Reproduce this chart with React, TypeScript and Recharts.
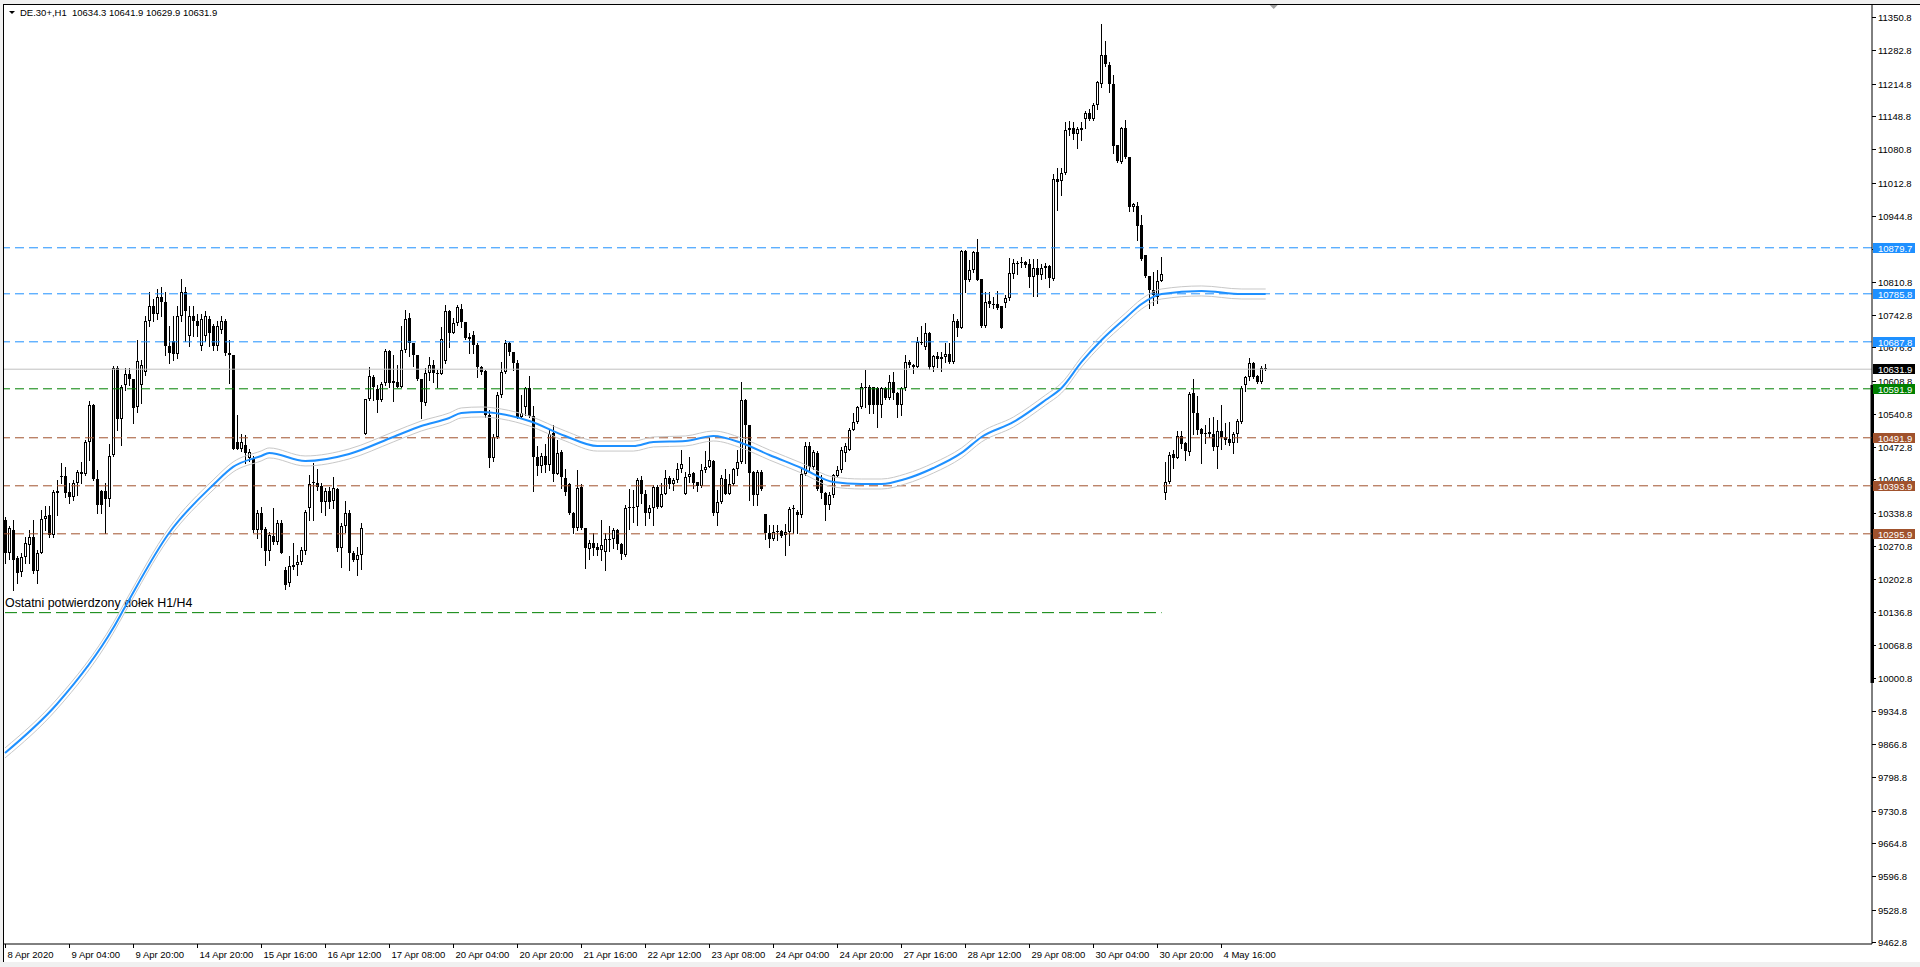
import React from "react"
import {
  ComposedChart,
  Bar,
  Line,
  XAxis,
  YAxis,
  ReferenceLine,
  ReferenceArea,
  ReferenceDot,
} from "recharts"

// DE.30+ H1 candles, 8 Apr 2020 12:00 -> 5 May 2020
const OPEN = [
  10324, 10256, 10304, 10246, 10217, 10248, 10273, 10289, 10219, 10256,
  10326, 10335, 10294, 10379, 10414, 10414, 10381, 10372, 10400, 10418,
  10418, 10483, 10558, 10407, 10383, 10383, 10367, 10457, 10634, 10530,
  10600, 10622, 10612, 10554, 10600, 10627, 10730, 10760, 10745, 10780,
  10770, 10680, 10690, 10662, 10740, 10790, 10700, 10740, 10730, 10680,
  10700, 10735, 10720, 10680, 10712, 10730, 10664, 10661, 10484, 10470,
  10477, 10450, 10450, 10304, 10338, 10305, 10260, 10292, 10280, 10317,
  10222, 10195, 10229, 10232, 10239, 10260, 10348, 10402, 10400, 10393,
  10360, 10383, 10362, 10387, 10266, 10311, 10338, 10256, 10242, 10253,
  10499, 10572, 10615, 10591, 10569, 10603, 10669, 10608, 10606, 10596,
  10671, 10736, 10685, 10660, 10611, 10562, 10625, 10640, 10624, 10623,
  10648, 10751, 10706, 10727, 10754, 10728, 10693, 10702, 10681, 10637,
  10628, 10538, 10450, 10494, 10579, 10626, 10686, 10668, 10644, 10535,
  10554, 10593, 10536, 10453, 10434, 10455, 10436, 10501, 10419, 10462,
  10409, 10398, 10339, 10307, 10392, 10307, 10264, 10277, 10270, 10262,
  10258, 10284, 10285, 10304, 10276, 10253, 10348, 10348, 10351, 10406,
  10377, 10339, 10348, 10392, 10350, 10377, 10409, 10397, 10406, 10428,
  10377, 10411, 10421, 10402, 10394, 10426, 10433, 10445, 10339, 10361,
  10408, 10377, 10397, 10428, 10443, 10570, 10518, 10423, 10376, 10423,
  10336, 10297, 10285, 10300, 10302, 10293, 10300, 10346, 10341, 10334,
  10419, 10476, 10433, 10460, 10406, 10379, 10355, 10375, 10414, 10426,
  10460, 10468, 10508, 10525, 10554, 10595, 10596, 10596, 10593, 10559,
  10593, 10574, 10606, 10583, 10559, 10593, 10647, 10640, 10637, 10688,
  10678, 10705, 10637, 10659, 10652, 10657, 10662, 10647, 10730, 10717,
  10874, 10814, 10834, 10872, 10815, 10720, 10771, 10766, 10765, 10761,
  10768, 10777, 10827, 10849, 10848, 10850, 10847, 10821, 10838, 10824,
  10838, 10843, 10817, 11020, 11017, 11032, 11120, 11125, 11111, 11125,
  11143, 11155, 11143, 11171, 11215, 11273, 11253, 11215, 11090, 11054,
  11124, 11064, 10962, 10966, 10926, 10864, 10823, 10794, 10780, 10812,
  10379, 10401, 10458, 10451, 10496, 10481, 10462, 10583, 10542, 10509,
  10501, 10503, 10499, 10474, 10505, 10494, 10490, 10481, 10499, 10524,
  10600, 10615, 10644, 10619, 10605, 10634.3,
]

const HIGH = [
  10330, 10312, 10324, 10250, 10256, 10290, 10304, 10324, 10263, 10345,
  10352, 10352, 10386, 10406, 10440, 10433, 10399, 10406, 10426, 10443,
  10488, 10568, 10560, 10426, 10386, 10399, 10479, 10639, 10639, 10600,
  10634, 10634, 10612, 10692, 10650, 10740, 10790, 10775, 10795, 10800,
  10790, 10720, 10740, 10760, 10815, 10800, 10760, 10760, 10745, 10745,
  10750, 10740, 10725, 10730, 10740, 10735, 10692, 10661, 10538, 10500,
  10498, 10470, 10455, 10345, 10351, 10310, 10300, 10348, 10324, 10324,
  10229, 10250, 10277, 10253, 10270, 10345, 10416, 10440, 10429, 10400,
  10389, 10392, 10412, 10389, 10317, 10362, 10345, 10260, 10270, 10317,
  10572, 10636, 10620, 10600, 10606, 10674, 10671, 10661, 10640, 10720,
  10753, 10746, 10686, 10661, 10612, 10634, 10657, 10651, 10630, 10719,
  10763, 10753, 10736, 10763, 10766, 10729, 10705, 10709, 10685, 10638,
  10630, 10549, 10500, 10586, 10647, 10691, 10688, 10668, 10651, 10579,
  10596, 10618, 10557, 10475, 10460, 10479, 10508, 10518, 10487, 10468,
  10428, 10400, 10341, 10426, 10397, 10308, 10283, 10298, 10277, 10324,
  10297, 10311, 10307, 10305, 10278, 10355, 10387, 10385, 10409, 10413,
  10385, 10355, 10396, 10396, 10400, 10427, 10413, 10409, 10440, 10467,
  10423, 10453, 10423, 10402, 10438, 10464, 10491, 10447, 10385, 10416,
  10428, 10419, 10431, 10468, 10605, 10572, 10519, 10424, 10426, 10426,
  10337, 10314, 10314, 10314, 10304, 10316, 10350, 10355, 10345, 10433,
  10484, 10484, 10467, 10464, 10416, 10382, 10382, 10419, 10434, 10474,
  10481, 10511, 10542, 10557, 10603, 10630, 10600, 10596, 10596, 10596,
  10596, 10620, 10627, 10586, 10596, 10661, 10651, 10642, 10697, 10720,
  10726, 10707, 10661, 10668, 10668, 10685, 10686, 10745, 10734, 10875,
  10875, 10855, 10873, 10897, 10815, 10790, 10790, 10780, 10792, 10761,
  10783, 10858, 10856, 10853, 10860, 10853, 10856, 10856, 10856, 10847,
  10848, 10845, 11030, 11042, 11042, 11137, 11138, 11136, 11127, 11137,
  11158, 11164, 11175, 11220, 11336, 11302, 11258, 11232, 11090, 11127,
  11140, 11066, 10971, 10974, 10947, 10864, 10823, 10831, 10834, 10860,
  10442, 10462, 10467, 10505, 10505, 10483, 10586, 10612, 10578, 10511,
  10518, 10532, 10534, 10528, 10558, 10522, 10525, 10504, 10530, 10598,
  10619, 10654, 10647, 10620, 10639, 10641.9,
]

const LOW = [
  10236, 10245, 10182, 10195, 10209, 10236, 10236, 10216, 10195, 10256,
  10304, 10290, 10290, 10335, 10399, 10372, 10358, 10365, 10375, 10399,
  10416, 10447, 10405, 10338, 10338, 10297, 10352, 10455, 10508, 10477,
  10590, 10600, 10522, 10545, 10562, 10620, 10720, 10730, 10735, 10740,
  10660, 10645, 10650, 10655, 10730, 10690, 10680, 10700, 10700, 10672,
  10690, 10680, 10672, 10672, 10705, 10660, 10603, 10470, 10470, 10465,
  10440, 10445, 10300, 10287, 10270, 10232, 10242, 10276, 10276, 10256,
  10183, 10190, 10225, 10212, 10235, 10255, 10324, 10324, 10385, 10341,
  10334, 10348, 10348, 10260, 10229, 10300, 10222, 10240, 10212, 10225,
  10499, 10569, 10569, 10545, 10566, 10600, 10596, 10566, 10596, 10595,
  10668, 10658, 10638, 10610, 10532, 10559, 10610, 10606, 10596, 10622,
  10645, 10678, 10705, 10722, 10719, 10693, 10664, 10664, 10615, 10623,
  10535, 10433, 10445, 10491, 10576, 10624, 10661, 10630, 10532, 10532,
  10538, 10535, 10384, 10416, 10423, 10423, 10426, 10404, 10418, 10389,
  10375, 10337, 10297, 10304, 10305, 10226, 10244, 10253, 10253, 10243,
  10223, 10260, 10266, 10264, 10244, 10251, 10305, 10321, 10314, 10358,
  10314, 10328, 10314, 10348, 10350, 10377, 10389, 10385, 10402, 10423,
  10377, 10402, 10389, 10384, 10392, 10423, 10433, 10334, 10314, 10358,
  10377, 10377, 10396, 10416, 10441, 10440, 10365, 10355, 10355, 10385,
  10285, 10270, 10283, 10283, 10289, 10253, 10273, 10297, 10297, 10331,
  10416, 10426, 10429, 10385, 10368, 10324, 10346, 10372, 10413, 10423,
  10445, 10467, 10507, 10523, 10552, 10555, 10543, 10542, 10513, 10535,
  10572, 10572, 10572, 10535, 10538, 10590, 10637, 10625, 10636, 10684,
  10674, 10632, 10629, 10637, 10629, 10647, 10645, 10645, 10700, 10715,
  10790, 10812, 10831, 10813, 10719, 10719, 10758, 10756, 10754, 10715,
  10758, 10773, 10819, 10826, 10841, 10840, 10800, 10781, 10781, 10817,
  10819, 10800, 10814, 10957, 10987, 11030, 11109, 11102, 11083, 11100,
  11125, 11141, 11141, 11163, 11207, 11251, 11197, 11073, 11054, 11052,
  11062, 10954, 10954, 10896, 10855, 10821, 10756, 10763, 10767, 10811,
  10367, 10399, 10430, 10450, 10471, 10447, 10457, 10499, 10499, 10440,
  10481, 10494, 10467, 10430, 10470, 10479, 10477, 10460, 10484, 10522,
  10588, 10610, 10613, 10603, 10603, 10629.9,
]

const CLOSE = [
  10256, 10307, 10243, 10216, 10248, 10277, 10289, 10219, 10256, 10326,
  10333, 10294, 10381, 10383, 10413, 10380, 10372, 10399, 10423, 10423,
  10483, 10558, 10407, 10355, 10355, 10367, 10454, 10634, 10530, 10596,
  10622, 10612, 10552, 10649, 10640, 10730, 10760, 10745, 10780, 10770,
  10680, 10665, 10662, 10740, 10790, 10750, 10740, 10730, 10720, 10735,
  10740, 10705, 10680, 10720, 10730, 10664, 10661, 10470, 10470, 10484,
  10460, 10462, 10304, 10338, 10304, 10260, 10294, 10280, 10317, 10256,
  10191, 10230, 10232, 10239, 10263, 10341, 10397, 10402, 10392, 10360,
  10383, 10360, 10389, 10266, 10311, 10338, 10256, 10242, 10253, 10307,
  10572, 10618, 10596, 10569, 10601, 10669, 10603, 10603, 10596, 10671,
  10734, 10685, 10660, 10611, 10564, 10625, 10640, 10624, 10622, 10693,
  10751, 10706, 10727, 10758, 10729, 10695, 10698, 10681, 10637, 10627,
  10538, 10450, 10494, 10579, 10626, 10685, 10666, 10644, 10535, 10542,
  10593, 10536, 10453, 10434, 10455, 10436, 10499, 10419, 10460, 10411,
  10382, 10339, 10307, 10389, 10307, 10266, 10277, 10266, 10262, 10273,
  10285, 10286, 10304, 10276, 10255, 10348, 10350, 10351, 10406, 10377,
  10339, 10348, 10392, 10350, 10377, 10409, 10397, 10406, 10428, 10438,
  10411, 10419, 10400, 10394, 10426, 10433, 10447, 10339, 10361, 10409,
  10377, 10397, 10428, 10443, 10570, 10518, 10421, 10376, 10423, 10387,
  10297, 10285, 10300, 10302, 10292, 10300, 10346, 10348, 10334, 10419,
  10476, 10433, 10462, 10387, 10379, 10355, 10375, 10416, 10426, 10466,
  10476, 10508, 10525, 10554, 10596, 10596, 10559, 10559, 10559, 10593,
  10574, 10606, 10583, 10559, 10593, 10647, 10640, 10636, 10688, 10686,
  10705, 10637, 10659, 10652, 10657, 10662, 10647, 10730, 10717, 10874,
  10814, 10834, 10872, 10814, 10720, 10770, 10766, 10763, 10756, 10717,
  10777, 10829, 10849, 10847, 10851, 10845, 10821, 10838, 10824, 10838,
  10843, 10819, 11020, 11015, 11032, 11120, 11125, 11111, 11123, 11120,
  11155, 11143, 11171, 11219, 11273, 11254, 11215, 11088, 11056, 11125,
  11064, 10962, 10969, 10925, 10857, 10823, 10794, 10784, 10812, 10826,
  10401, 10457, 10450, 10496, 10479, 10464, 10581, 10542, 10508, 10499,
  10499, 10500, 10473, 10505, 10494, 10488, 10481, 10499, 10526, 10593,
  10615, 10644, 10617, 10605, 10634, 10631.9,
]

// moving average, read at a few bars
const MA_AT = [
  0, 13, 27, 30, 41, 52, 57, 64, 66, 75, 86, 97, 104, 111, 114, 119, 124,
  131, 140, 148, 157, 162, 170, 177, 184, 191, 199, 207, 214, 219, 225, 232,
  239, 244, 252, 260, 264, 269, 274, 280, 284, 289, 299, 309, 315,
]
const MA = [
  9848.6, 9948.6, 10103, 10146.6, 10297.6, 10395.6, 10432.4, 10454.8, 10461,
  10444.6, 10459, 10493.6, 10516, 10532.4, 10542.6, 10544.6, 10540.5, 10526.2,
  10495.6, 10475, 10475, 10483.4, 10485.4, 10495.6, 10481.3, 10456.8, 10430.3,
  10401.7, 10397.6, 10397.6, 10407.9, 10430.3, 10461, 10493.6, 10524.2, 10569,
  10593.6, 10646.7, 10691.5, 10736.4, 10765, 10785.4, 10791.6, 10785.4, 10785.4,
]

const X_TICK_AT = [
  0, 16, 32, 48, 64, 80, 96, 112, 128, 144, 160, 176, 192, 208, 224, 240,
  256, 272, 288, 304,
]
const X_LABELS = [
  "8 Apr 2020", "9 Apr 04:00", "9 Apr 20:00", "14 Apr 20:00", "15 Apr 16:00",
  "16 Apr 12:00", "17 Apr 08:00", "20 Apr 04:00", "20 Apr 20:00",
  "21 Apr 16:00", "22 Apr 12:00", "23 Apr 08:00", "24 Apr 04:00",
  "24 Apr 20:00", "27 Apr 16:00", "28 Apr 12:00", "29 Apr 08:00",
  "30 Apr 04:00", "30 Apr 20:00", "4 May 16:00",
]

const Y_TICKS = [
  11350.8, 11282.8, 11214.8, 11148.8, 11080.8, 11012.8, 10944.8, 10876.8,
  10810.8, 10742.8, 10676.8, 10608.8, 10540.8, 10472.8, 10406.8, 10338.8,
  10270.8, 10202.8, 10136.8, 10068.8, 10000.8, 9934.8, 9866.8, 9798.8,
  9730.8, 9664.8, 9596.8, 9528.8, 9462.8,
]

const LEVELS = [10879.7, 10785.8, 10687.8, 10631.9, 10591.9, 10491.9, 10393.9, 10295.9]
const LEVEL_KIND = ["res", "res", "res", "bid", "pivot", "sup", "sup", "sup"]

const LOW_MARK = 10135
const LOW_MARK_END = 289
const LOW_NOTE = "Ostatni potwierdzony dołek H1/H4"

const HEADER = "DE.30+,H1  10634.3 10641.9 10629.9 10631.9"

const Y_MIN = 9458.7
const Y_MAX = 11377.3
const SLOTS = 467

const KIND_STYLE: Record<string, { line: string; box: string; dash?: string }> = {
  res: { line: "#1E90FF", box: "#1E90FF", dash: "9 5" },
  bid: { line: "#C0C0C0", box: "#000000" },
  pivot: { line: "#008000", box: "#008000", dash: "9 5" },
  sup: { line: "#A0522D", box: "#A0522D", dash: "9 5" },
}

const FONT = "Tahoma, 'Liberation Sans', Arial, sans-serif"

const rows = Array.from({ length: SLOTS }, (_, i) => {
  const k = MA_AT.indexOf(i)
  return {
    i,
    o: OPEN[i],
    h: HIGH[i],
    l: LOW[i],
    c: CLOSE[i],
    ma: k >= 0 ? MA[k] : null,
  }
})

function Candle(props: any) {
  const { x, y, width, height, payload } = props
  if (!payload || payload.h == null) return null
  const { o, h, l, c } = payload
  const span = h - l || 1
  const py = (p: number) => y + ((h - p) / span) * height
  const cx = Math.floor(x + width / 2)
  const top = Math.round(py(Math.max(o, c)))
  const bot = Math.round(py(Math.min(o, c)))
  const bull = c >= o
  return (
    <g>
      <line x1={cx + 0.5} x2={cx + 0.5} y1={Math.round(py(h))} y2={Math.round(py(l)) + 1} stroke="#000" strokeWidth={1} />
      {bot - top < 2 ? (
        <rect x={cx - 1} y={top} width={3} height={Math.max(1, bot - top)} fill="#000" />
      ) : bull ? (
        <rect x={cx - 0.5} y={top + 0.5} width={2} height={bot - top - 1} fill="#fff" stroke="#000" strokeWidth={1} />
      ) : (
        <rect x={cx - 1} y={top} width={3} height={bot - top} fill="#000" />
      )}
    </g>
  )
}

function XTick({ x, y, payload }: any) {
  const label = X_LABELS[X_TICK_AT.indexOf(payload.value)]
  const tx = Math.floor(x) + 0.5
  return (
    <g>
      <line x1={tx} x2={tx} y1={y} y2={y + 4} stroke="#000" />
      <text x={tx + 2} y={y + 13.5} fontSize={9.5} fontFamily={FONT} fill="#000">
        {label}
      </text>
    </g>
  )
}

// price scale ticks; the level boxes come last so they sit on top of the plain labels
function YTick({ x, y, payload }: any) {
  const ty = Math.round(y)
  const k = LEVELS.indexOf(payload.value)
  if (k >= 0) {
    const st = KIND_STYLE[LEVEL_KIND[k]]
    return (
      <g>
        <rect x={x + 1} y={ty - 5} width={42} height={10} fill={st.box} />
        <text x={x + 6} y={ty + 3.5} fontSize={9.5} fontFamily={FONT} fill="#fff">
          {payload.value.toFixed(1)}
        </text>
      </g>
    )
  }
  return (
    <g>
      <line x1={x} x2={x + 4} y1={ty + 0.5} y2={ty + 0.5} stroke="#000" />
      <text x={x + 6} y={ty + 4} fontSize={9.5} fontFamily={FONT} fill="#000">
        {payload.value.toFixed(1)}
      </text>
    </g>
  )
}

function AxisBar(props: any) {
  const { x, y, width, height } = props
  return <rect x={x + width - 1.5} y={y} width={3.5} height={height} fill="#000" />
}

function ShiftMark(props: any) {
  const { cx } = props
  return <polygon points={`${cx - 4},5 ${cx + 4},5 ${cx},9`} fill="#a0a0a0" />
}

export default function App() {
  return (
    <div style={{ position: "absolute", left: 0, top: 0, width: 1920, height: 967, background: "#fff", overflow: "hidden" }}>
      <ComposedChart
        width={1920}
        height={967}
        data={rows}
        margin={{ top: 4, right: 0, bottom: 0, left: 3 }}
        barCategoryGap={0}
        barGap={0}
      >
        <XAxis
          dataKey="i"
          ticks={X_TICK_AT}
          interval={0}
          height={23}
          tickSize={0}
          tickMargin={0}
          tick={<XTick />}
          axisLine={{ stroke: "#000" }}
          tickLine={false}
        />
        <YAxis
          orientation="right"
          width={48}
          domain={[Y_MIN, Y_MAX]}
          allowDataOverflow
          ticks={[...Y_TICKS, ...LEVELS]}
          interval={0}
          tickSize={0}
          tickMargin={0}
          tick={<YTick />}
          axisLine={{ stroke: "#000" }}
          tickLine={false}
        />
        <ReferenceArea y1={9991.5} y2={10599.7} shape={<AxisBar />} ifOverflow="visible" />
        {LEVELS.map((v, k) => {
          const st = KIND_STYLE[LEVEL_KIND[k]]
          return (
            <ReferenceLine key={v} y={v} stroke={st.line} strokeWidth={1} strokeDasharray={st.dash} />
          )
        })}
        <ReferenceLine
          segment={[
            { x: 0, y: LOW_MARK },
            { x: LOW_MARK_END, y: LOW_MARK },
          ]}
          stroke="#008000"
          strokeDasharray="12 5"
          label={({ viewBox }: any) => (
            <text x={viewBox.x} y={viewBox.y - 6} fontSize={12.4} fontFamily={FONT} fill="#000">
              {LOW_NOTE}
            </text>
          )}
        />
        <Bar dataKey={(d: any) => (d.h == null ? null : [d.l, d.h])} shape={<Candle />} isAnimationActive={false} />
        <Line dataKey="ma" type="monotone" connectNulls dot={false} stroke="#C8C8C8" strokeWidth={1} transform="translate(0,-5)" isAnimationActive={false} />
        <Line dataKey="ma" type="monotone" connectNulls dot={false} stroke="#C8C8C8" strokeWidth={1} transform="translate(0,5)" isAnimationActive={false} />
        <Line dataKey="ma" type="monotone" connectNulls dot={false} stroke="#1E90FF" strokeWidth={2} isAnimationActive={false} />
        <ReferenceDot x={317} y={Y_MAX - 1} shape={<ShiftMark />} />
      </ComposedChart>
      <div style={{ position: "absolute", left: 0, top: 0, width: 1920, height: 4, background: "#f0f0f0" }} />
      <div style={{ position: "absolute", left: 3, top: 4, width: 1917, height: 1, background: "#000" }} />
      <div style={{ position: "absolute", left: 0, top: 0, width: 3, height: 967, background: "#f0f0f0" }} />
      <div style={{ position: "absolute", left: 3, top: 4, width: 1, height: 958, background: "#000" }} />
      <div style={{ position: "absolute", left: 0, top: 962, width: 1920, height: 5, background: "#f0f0f0" }} />
      <svg style={{ position: "absolute", left: 0, top: 0 }} width={300} height={20}>
        <polygon points="9,11 15,11 12,14" fill="#000" />
        <text x={20} y={16} fontSize={9.5} fontFamily={FONT} fill="#000">
          {HEADER.replace("  ", "\u00a0\u00a0")}
        </text>
      </svg>
    </div>
  )
}
